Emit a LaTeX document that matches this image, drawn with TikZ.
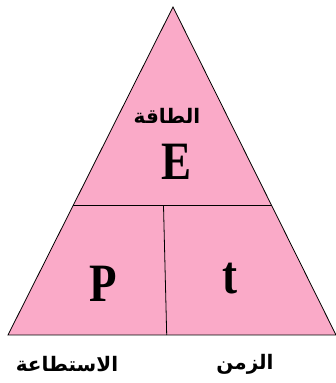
\documentclass[tikz,border=0pt]{standalone}
\usepackage{fontspec}
\setmainfont{Liberation Serif}
\newfontfamily\arabicfont[Script=Arabic]{DejaVu Sans}
\TeXXeTstate=1
\definecolor{trianglepink}{RGB}{250,170,200}
\begin{document}
\begin{tikzpicture}[x=1pt, y=1pt, line width=0.8pt,
        letter/.style={font=\fontsize{45}{45}\selectfont\bfseries, transform shape, yscale=1.2, inner sep=0pt},
        word/.style={font=\arabicfont\fontsize{20}{20}\selectfont\bfseries, inner sep=0pt}]
    \useasboundingbox (0,0) rectangle (336,383);
    \coordinate (apex)  at (173,376);
    \coordinate (left)  at (8,48);
    \coordinate (right) at (336,48);
    \coordinate (midL)  at (73,177.3);
    \coordinate (midR)  at (271.7,177.3);
    \coordinate (divT)  at (163.5,177.3);
    \coordinate (divB)  at (166.7,48);
    % Triangle
    \filldraw[fill=trianglepink, draw=black] (apex) -- (right) -- (left) -- cycle;
    \draw (midL) -- (midR);
    \draw (divT) -- (divB);
    % Letters
    \node[letter] (E) at (176.7,221) {E};
    \node[letter] (P) at (103,99) {P};
    \node[letter] (t) at (230,104) {t};
    % Arabic words
    \node[word] (energy) at (167,267) {\beginR الطاقة\endR};
    \node[word] (power)  at (67,19)   {\beginR الاستطاعة\endR};
    \node[word] (time)   at (245,19)  {\beginR الزمن\endR};
\end{tikzpicture}
\end{document}
